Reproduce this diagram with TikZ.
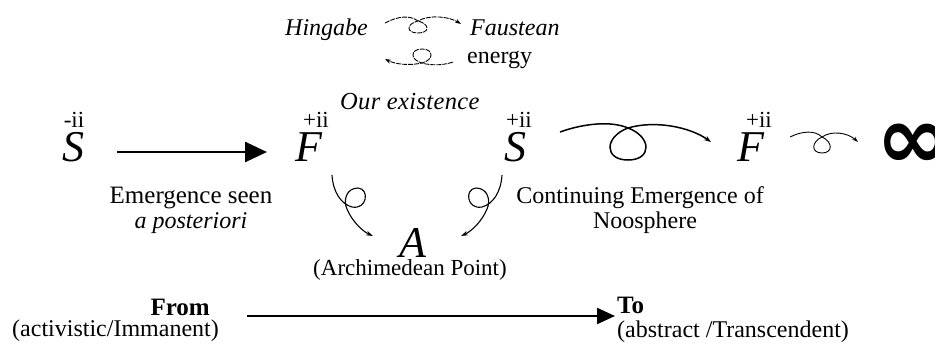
\documentclass[tikz,border=0pt]{standalone}
\usepackage{fontspec}
\setmainfont{Liberation Serif}
\newfontfamily\symfont{DejaVu Sans}
\usetikzlibrary{arrows.meta}
\begin{document}
\begin{tikzpicture}[x=1pt,y=-1pt,
  txt/.style={inner sep=0pt, anchor=base, font=\fontsize{24}{26}\selectfont},
  itxt/.style={inner sep=0pt, anchor=base, font=\fontsize{24}{26}\selectfont\itshape},
  btxt/.style={inner sep=0pt, anchor=base, font=\fontsize{25}{27}\selectfont\bfseries},
  big/.style={inner sep=0pt, anchor=base, font=\fontsize{44}{46}\selectfont\itshape},
  sup/.style={inner sep=0pt, anchor=base, font=\fontsize{23}{25}\selectfont},
  bigarrow/.style={line width=2.6pt, -{Triangle[length=22pt,width=20pt]}},
  longarrow/.style={line width=2.2pt, -{Triangle[length=18pt,width=16pt]}},
  loopline/.style={line width=1.5pt, -{Stealth[length=7pt,width=5pt]}},
  thinloop/.style={line width=0.9pt, -{Stealth[length=6pt,width=4pt]}},
  dashloop/.style={line width=0.9pt, dash pattern=on 5pt off 1pt, -{Stealth[length=6pt,width=4pt]}},
  curl/.style={line width=1.1pt, -{Stealth[length=7pt,width=4.5pt]}}
]
\useasboundingbox (0,0) rectangle (935,343);

% top words
\node[itxt, anchor=base west] (hing) at (285,35) {Hingabe};
\node[itxt, anchor=base west] (faus) at (470,35) {Faustean};
\node[txt, anchor=base west] (ener) at (467,63) {energy};
\node[itxt, anchor=base west, font=\fontsize{24.5}{26}\selectfont\itshape] (ourx) at (340,109) {\addfontfeature{LetterSpace=1.5}Our existence};

% main row
\node[big] (s1) at (73,161) {S};
\node[sup] (s1s) at (74,127) {-ii};
\node[big] (f1) at (309,161) {F};
\node[sup] (f1s) at (316,127) {+ii};
\node[big] (s2) at (515,161) {S};
\node[sup] (s2s) at (519,127) {+ii};
\node[big] (f2) at (751,161) {F};
\node[sup] (f2s) at (759,127) {+ii};
\node[inner sep=0pt, font=\symfont\bfseries\fontsize{88}{90}\selectfont] (inf) at (913,146) {∞};

% labels
\node[txt, font=\fontsize{25}{27}\selectfont] (em1) at (191,203) {Emergence seen};
\node[itxt] (em2) at (191,228) {a posteriori};
\node[txt] (ce1) at (640,203) {Continuing Emergence of};
\node[txt] (ce2) at (645,228) {Noosphere};
\node[big] (A) at (413,257) {A};
\node[txt, font=\fontsize{23}{25}\selectfont] (arch) at (410,275) {(Archimedean Point)};

% bottom
\node[btxt, anchor=base east] (from) at (210,315) {From};
\node[txt, anchor=base west] (act) at (12,336) {(activistic/Immanent)};
\node[btxt, anchor=base west] (to) at (617,313) {To};
\node[txt, anchor=base west] (abs) at (617,337) {(abstract /Transcendent)};

% connector end points
\coordinate (a1s) at (117,152);
\coordinate (a1e) at (267,152);
\coordinate (a2s) at (247,316);
\coordinate (a2e) at (615,316);
\coordinate (l1s) at (560,132);
\coordinate (l1e) at (711,142);
\coordinate (l2s) at (790,137);
\coordinate (l2e) at (858,142);
\coordinate (t1s) at (385,23);
\coordinate (t1e) at (461,24);
\coordinate (b1s) at (453,62);
\coordinate (b1e) at (385,59);
\coordinate (c1s) at (332,175);
\coordinate (c1e) at (373,236);
\coordinate (c2s) at (502,175);
\coordinate (c2e) at (461,236);

% straight arrows
\draw[bigarrow] (a1s) -- (a1e);
\draw[longarrow] (a2s) -- (a2e);

% big loop S -> F
\draw[loopline] (l1s) .. controls (585,123) and (612,121) .. (628,128)
  .. controls (652,137) and (652,160) .. (628,160)
  .. controls (604,160) and (604,137) .. (628,128)
  .. controls (655,120) and (690,127) .. (l1e);

% small loop F -> infinity
\draw[thinloop] (l2s) .. controls (802,131) and (815,130) .. (822,137)
  .. controls (833,142) and (833,153) .. (822,153)
  .. controls (811,153) and (811,142) .. (822,137)
  .. controls (832,130) and (848,133) .. (l2e);

% top dashed loop Hingabe -> Faustean
\draw[dashloop] (t1s) .. controls (398,16) and (410,15) .. (418,21)
  .. controls (430,24) and (430,33) .. (418,33)
  .. controls (406,33) and (406,24) .. (418,21)
  .. controls (430,14) and (450,17) .. (t1e);

% lower dashed loop energy -> left
\draw[dashloop] (b1s) .. controls (445,65) and (432,66) .. (422,63)
  .. controls (410,60) and (410,49) .. (422,49)
  .. controls (434,49) and (434,60) .. (422,63)
  .. controls (408,66) and (395,64) .. (b1e);

% curly arrows to A
\draw[curl] (c1s) .. controls (333,192) and (341,204) .. (352,207)
  .. controls (367,210) and (370,189) .. (358,188)
  .. controls (346,188) and (343,201) .. (347,209)
  .. controls (352,221) and (362,231) .. (c1e);
\draw[curl] (c2s) .. controls (501,192) and (493,204) .. (482,207)
  .. controls (467,210) and (464,189) .. (476,188)
  .. controls (488,188) and (491,201) .. (487,209)
  .. controls (482,221) and (472,231) .. (c2e);
\end{tikzpicture}
\end{document}
